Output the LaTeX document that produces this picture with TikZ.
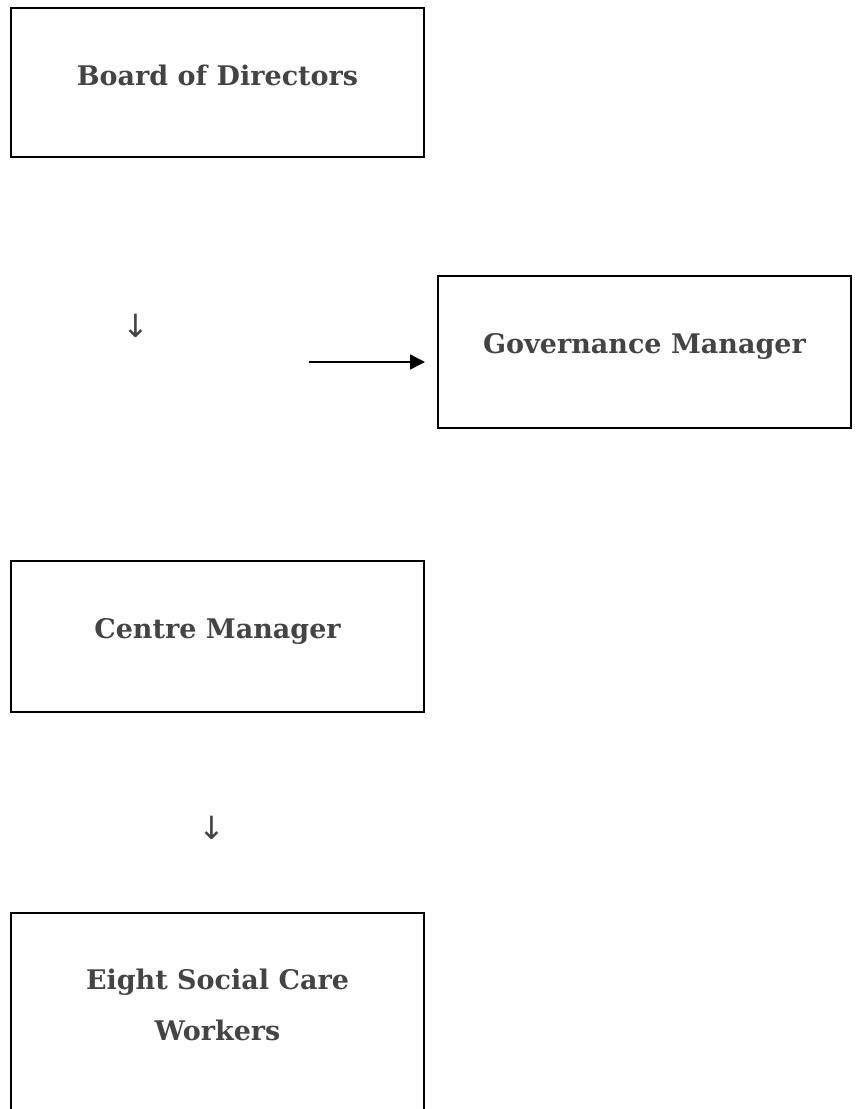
\documentclass[tikz,border=0pt]{standalone}
\usepackage{fontspec}
\setmainfont{DejaVu Serif}
\newfontfamily\arrsym{DejaVu Sans}
\usetikzlibrary{arrows.meta}
\definecolor{txtgray}{HTML}{444444}

\begin{document}
\begin{tikzpicture}[x=1pt,y=-1pt,
		box/.style={draw,line width=2pt,minimum width=413pt,inner sep=0pt,text height=77pt,align=center,anchor=north west,text=txtgray,font=\bfseries\fontsize{27}{51}\selectfont},
		downsym/.style={text=txtgray,inner sep=0pt,font=\arrsym\fontsize{32}{36}\selectfont}]
	\useasboundingbox (0,0) rectangle (855,1109);
	\clip (0,0) rectangle (855,1109);
	
	\node[box,text depth=72pt] (board) at (10,7) {Board of Directors};
	\node[box,text depth=75pt] (gov) at (437,275) {Governance Manager};
	\node[box,text depth=74pt] (centre) at (10,560) {Centre Manager};
	\node[box,text height=127pt,text depth=260pt] (workers) at (10,912) {Eight Social Care\\Workers};
	
	\node[downsym] (downa) at (136,325.5) {↓};
	\node[downsym] (downb) at (212,827.5) {↓};
	
	\coordinate (govtail) at (309,362);
	\draw[line width=1.5pt,-{Triangle[length=15pt,width=15pt]},shorten >=12pt] (govtail) -- (govtail -| gov.west);
\end{tikzpicture}
\end{document}
